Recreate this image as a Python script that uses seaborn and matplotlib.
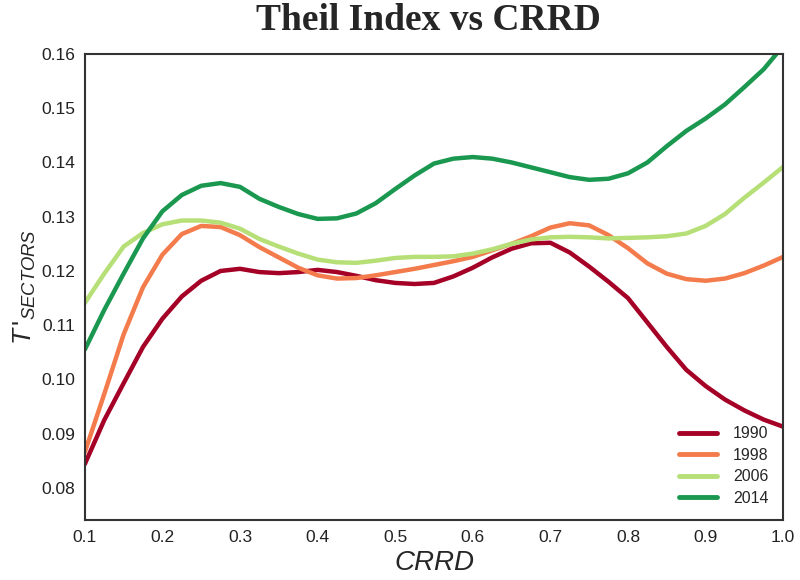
import numpy as np
import pandas as pd
import matplotlib
matplotlib.use("Agg")
import matplotlib.pyplot as plt
import seaborn as sns

crrd = [0.100, 0.125, 0.150, 0.175, 0.200, 0.225, 0.250, 0.275, 0.300, 0.325,
        0.350, 0.375, 0.400, 0.425, 0.450, 0.475, 0.500, 0.525, 0.550, 0.575,
        0.600, 0.625, 0.650, 0.675, 0.700, 0.725, 0.750, 0.775, 0.800, 0.825,
        0.850, 0.875, 0.900, 0.925, 0.950, 0.975, 1.000]

t1990 = [0.0844, 0.0925, 0.0993, 0.1060, 0.1112, 0.1153, 0.1182, 0.1200, 0.1204, 0.1198,
         0.1196, 0.1198, 0.1202, 0.1198, 0.1191, 0.1183, 0.1178, 0.1176, 0.1178, 0.1190,
         0.1206, 0.1225, 0.1241, 0.1251, 0.1252, 0.1234, 0.1208, 0.1180, 0.1150, 0.1105,
         0.1060, 0.1018, 0.0988, 0.0963, 0.0943, 0.0926, 0.0913]
t1998 = [0.0866, 0.0973, 0.1083, 0.1170, 0.1230, 0.1268, 0.1283, 0.1281, 0.1266, 0.1244,
         0.1225, 0.1206, 0.1192, 0.1186, 0.1187, 0.1192, 0.1198, 0.1204, 0.1211, 0.1218,
         0.1226, 0.1238, 0.1250, 0.1264, 0.1280, 0.1288, 0.1284, 0.1266, 0.1242, 0.1214,
         0.1195, 0.1185, 0.1182, 0.1186, 0.1196, 0.1210, 0.1226]
t2006 = [0.1141, 0.1195, 0.1245, 0.1270, 0.1286, 0.1293, 0.1293, 0.1289, 0.1278, 0.1259,
         0.1245, 0.1232, 0.1221, 0.1216, 0.1215, 0.1219, 0.1224, 0.1226, 0.1226, 0.1227,
         0.1232, 0.1240, 0.1250, 0.1258, 0.1262, 0.1263, 0.1262, 0.1260, 0.1261, 0.1262,
         0.1264, 0.1269, 0.1283, 0.1305, 0.1335, 0.1363, 0.1392]
t2014 = [0.1055, 0.1128, 0.1195, 0.1260, 0.1310, 0.1340, 0.1357, 0.1362, 0.1355, 0.1333,
         0.1318, 0.1305, 0.1296, 0.1297, 0.1306, 0.1325, 0.1351, 0.1376, 0.1398, 0.1407,
         0.1410, 0.1407, 0.1400, 0.1391, 0.1382, 0.1373, 0.1368, 0.1370, 0.1380, 0.1400,
         0.1430, 0.1458, 0.1481, 0.1507, 0.1539, 0.1572, 0.1615]

years = ["1990", "1998", "2006", "2014"]
series = [t1990, t1998, t2006, t2014]
colors = ["#a50026", "#f47b4b", "#b6e077", "#1a9850"]

xticks = [0.1, 0.2, 0.3, 0.4, 0.5, 0.6, 0.7, 0.8, 0.9, 1.0]
yticks = [0.08, 0.09, 0.10, 0.11, 0.12, 0.13, 0.14, 0.15, 0.16]

df = pd.concat([pd.DataFrame({"CRRD": crrd, "T": s, "year": y})
                for y, s in zip(years, series)], ignore_index=True)

sns.set_theme(style="white")
plt.rcParams["font.family"] = ["Liberation Sans", "DejaVu Sans"]
plt.rcParams["mathtext.fontset"] = "custom"
plt.rcParams["mathtext.it"] = "Liberation Sans:italic"
plt.rcParams["mathtext.rm"] = "Liberation Sans"

fig = plt.figure(figsize=(8, 5.8), dpi=100)
ax = fig.add_axes([0.106, 0.1034, 0.873, 0.8036])

sns.lineplot(data=df, x="CRRD", y="T", hue="year", palette=dict(zip(years, colors)),
             linewidth=3.2, ax=ax, solid_joinstyle="round", solid_capstyle="round")

ax.set_xlim(0.1, 1.0)
ax.set_ylim(0.0741, 0.16)
ax.set_xticks(xticks)
ax.set_xticklabels([f"{t:.1f}" for t in xticks], fontsize=12.5, color="#222222")
ax.set_yticks(yticks)
ax.set_yticklabels([f"{t:.2f}" for t in yticks], fontsize=12.5, color="#222222")
ax.tick_params(length=0, pad=7)

for sp in ax.spines.values():
    sp.set_color("#333333")
    sp.set_linewidth(1.5)

ax.set_xlabel("CRRD", fontsize=20, style="italic", labelpad=4)
ax.set_ylabel(r"$T\,'_{SECTORS}$", fontsize=19, labelpad=2)
fig.suptitle("Theil Index vs CRRD", x=0.535, y=0.995, fontsize=27,
             fontweight="bold", family="Liberation Serif", va="top")

leg = ax.legend(loc="lower right", frameon=False, fontsize=11.5, handlelength=2.4,
                labelspacing=0.4, borderaxespad=0.5, handletextpad=1.0)
for line in leg.get_lines():
    line.set_linewidth(3.5)

fig.savefig("out.png", dpi=100)
